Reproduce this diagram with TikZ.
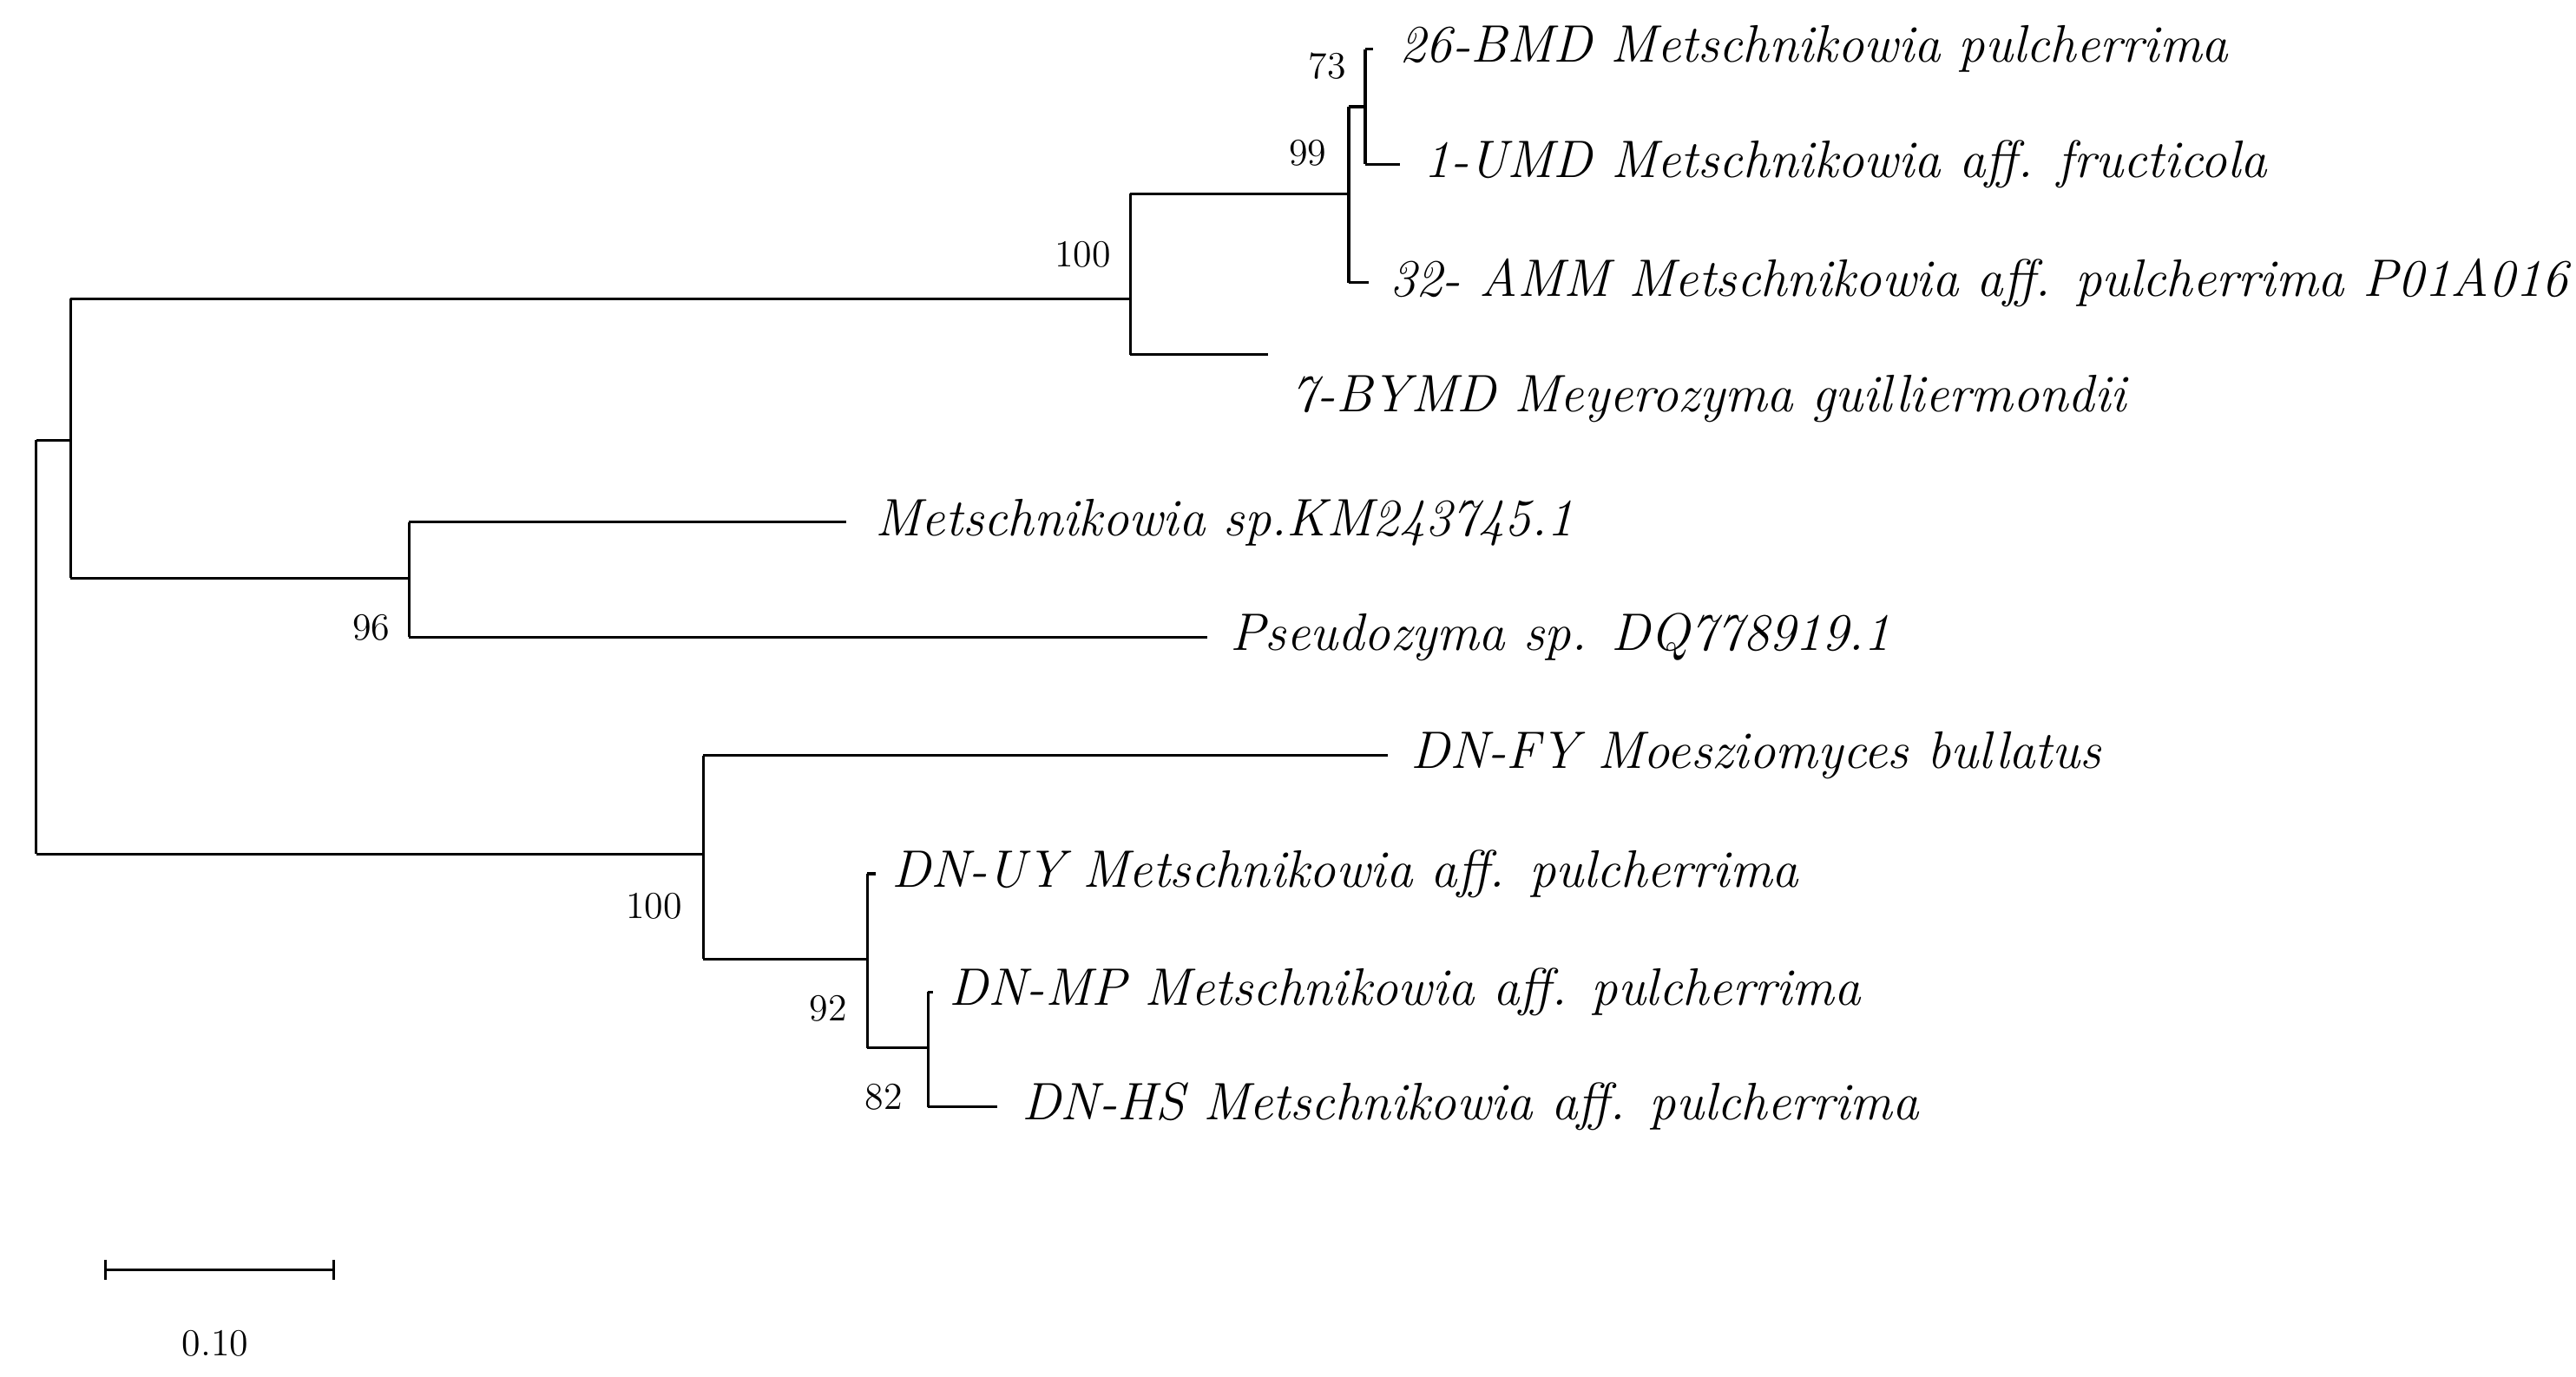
\documentclass[tikz,border=0pt]{standalone}
\begin{document}
\begin{tikzpicture}[x=0.01893cm,y=-0.01893cm,line width=0.9pt,
  lab/.style={anchor=west,inner sep=0pt,font=\fontsize{17.3}{20}\selectfont\itshape},
  bs/.style={inner sep=0pt,font=\fontsize{12.5}{14}\selectfont}]
\useasboundingbox (0,0) rectangle (1568,838);
\draw (22,268) -- (22,520);
\draw (22,268) -- (43,268);
\draw (43,182) -- (43,352);
\draw (43,182) -- (688,182);
\draw (688,118) -- (688,216);
\draw (688,118) -- (821,118);
\draw (821,65) -- (821,172);
\draw (821,65) -- (831,65);
\draw (831,30) -- (831,100);
\draw (831,30) -- (836,30);
\draw (831,100) -- (852,100);
\draw (821,172) -- (833,172);
\draw (688,216) -- (772,216);
\draw (43,352) -- (249,352);
\draw (249,318) -- (249,388);
\draw (249,318) -- (515,318);
\draw (249,388) -- (735,388);
\draw (22,520) -- (428,520);
\draw (428,460) -- (428,584);
\draw (428,460) -- (845,460);
\draw (428,584) -- (528,584);
\draw (528,532) -- (528,638);
\draw (528,532) -- (533,532);
\draw (528,638) -- (565,638);
\draw (565,604) -- (565,674);
\draw (565,604) -- (568,604);
\draw (565,674) -- (607,674);
\node[lab] (l1) at (851,30) {26-BMD Metschnikowia pulcherrima};
\node[lab] (l2) at (866,100) {1-UMD Metschnikowia aff. fructicola};
\node[lab] (l3) at (845,172) {32- AMM Metschnikowia aff. pulcherrima P01A016};
\node[lab] (l4) at (785,243) {7-BYMD Meyerozyma guilliermondii};
\node[lab] (l5) at (532,318) {Metschnikowia sp.KM243745.1};
\node[lab] (l6) at (748,388) {Pseudozyma sp. DQ778919.1};
\node[lab] (l7) at (858,460) {DN-FY Moesziomyces bullatus};
\node[lab] (l8) at (542,532) {DN-UY Metschnikowia aff. pulcherrima};
\node[lab] (l9) at (577,604) {DN-MP Metschnikowia aff. pulcherrima};
\node[lab] (l10) at (621,674) {DN-HS Metschnikowia aff. pulcherrima};
\node[bs] (b1) at (808,40) {73};
\node[bs] (b2) at (796,93) {99};
\node[bs] (b3) at (659,155) {100};
\node[bs] (b4) at (226,382) {96};
\node[bs] (b5) at (398,552) {100};
\node[bs] (b6) at (504,614) {92};
\node[bs] (b7) at (538,668) {82};
\coordinate (s1) at (64,773);
\coordinate (s2) at (203,773);
\draw (s1) -- (s2);
\draw (64,767) -- (64,779);
\draw (203,767) -- (203,779);
\node[bs] (sc) at (131,818) {0.10};
\end{tikzpicture}
\end{document}
